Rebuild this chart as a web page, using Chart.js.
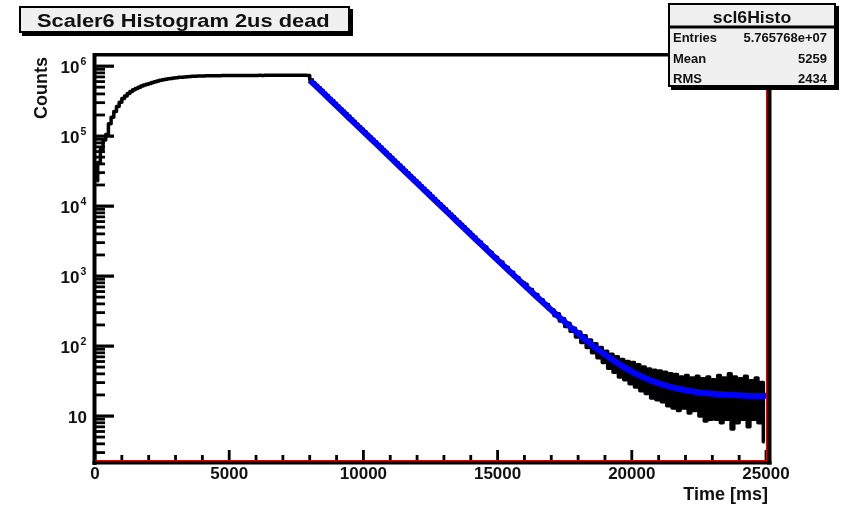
<!DOCTYPE html>
<html>
<head>
<meta charset="utf-8">
<title>Scaler6 Histogram 2us dead</title>
<script src="https://cdn.jsdelivr.net/npm/chart.js@4.4.1/dist/chart.umd.min.js"></script>
<style>
  html, body { margin: 0; padding: 0; background: #fff; }
  canvas { display: block; }
</style>
</head>
<body>
<canvas id="histo" width="844" height="505"></canvas>
<script>
// histogram: 250 bins of 100 ms, counts
const binWidth = 100;
const histCounts = [
  // 0 - 3900 ms (rise)
  23000, 42000, 65000, 88000, 105000, 150000, 185000, 225000, 265000, 305000,
  345000, 375000, 405000, 435000, 458000, 480000, 500000, 518000, 535000, 550000,
  565000, 582000, 598000, 612000, 625000, 637000, 648000, 658000, 667000, 675000,
  684000, 690000, 695000, 700000, 705000, 709000, 713000, 716000, 719000, 721000,
  // 4000 - 7900 ms (plateau)
  723000, 725000, 726000, 727000, 728000, 729000, 730000, 731000, 731000, 732000,
  732000, 733000, 732000, 734000, 733000, 735000, 734000, 735000, 736000, 735000,
  736000, 737000, 736000, 738000, 737000, 738000, 739000, 738000, 739000, 740000,
  739000, 740000, 741000, 740000, 741000, 742000, 741000, 742000, 742000, 736000,
  // 8000 - 15900 ms (decay)
  640000, 579000, 532000, 490000, 450000, 413000, 379000, 348000, 321000, 294000,
  270000, 248000, 228000, 210000, 193000, 177000, 163000, 149000, 137000, 126000,
  116000, 106000, 97700, 89900, 82600, 75900, 69700, 64000, 58900, 54100,
  49700, 45600, 41900, 38500, 35400, 32500, 29900, 27400, 25200, 23200,
  21300, 19500, 18000, 16500, 15200, 13900, 12800, 11700, 10800, 9930,
  9120, 8380, 7690, 7080, 6500, 5970, 5480, 5040, 4630, 4260,
  3880, 3620, 3260, 3060, 2750, 2590, 2310, 2190, 1950, 1850,
  1650, 1580, 1390, 1340, 1170, 1130, 990, 955, 835, 810,
  // 16000 - 24900 ms (noisy tail)
  760, 650, 640, 550, 545, 470, 460, 395, 392, 335,
  330, 270, 290, 228, 246, 190, 212, 162, 180, 135,
  158, 112, 140, 95, 122, 80, 108, 68, 95, 58,
  84, 48, 76, 42, 70, 36, 64, 33, 60, 29,
  58, 26, 54, 23, 50, 21, 47, 18, 45, 17,
  44, 16, 42, 14, 40, 13, 39, 12, 36, 13,
  38, 11, 35, 12, 37, 10, 34, 8.5, 36, 9,
  33, 9, 38, 8, 35, 9, 40, 6.5, 36, 8,
  34, 9, 37, 7, 32, 9, 35, 8, 30, 4.3
];

// fitted curve (blue), sampled every 500 ms
const fitTimes = [
  8000, 8500, 9000, 9500, 10000, 10500, 11000, 11500, 12000, 12500,
  13000, 13500, 14000, 14500, 15000, 15500, 16000, 16500, 17000, 17500,
  18000, 18500, 19000, 19500, 20000, 20500, 21000, 21500, 22000, 22500,
  23000, 23500, 24000, 24500, 25000
];
const fitCounts = [
  631000, 413000, 270000, 177000, 116000, 75900, 49700, 32500, 21300, 13900,
  9120, 5970, 3910, 2560, 1690, 1115, 737, 489, 327, 220,
  151, 105, 75.5, 56, 43.2, 34.8, 29.4, 25.8, 23.5, 21.9,
  20.9, 20.2, 19.8, 19.5, 19.4
];

const xMajorTicks = [0, 5000, 10000, 15000, 20000, 25000];
const xMinorStep = 1000;
const yDecades = [1, 2, 3, 4, 5, 6];
const statsTitle = "scl6Histo";
const statsNames = ["Entries", "Mean", "RMS"];
const statsValues = ["5.765768e+07", "5259", "2434"];

const FONT = '"Liberation Sans", Arial, Helvetica, sans-serif';
const INK = "#111";

function label(ctx, text, x, y, size, align, sx) {
  ctx.save();
  ctx.font = "bold " + size + "px " + FONT;
  ctx.fillStyle = INK;
  ctx.textAlign = align;
  ctx.textBaseline = "alphabetic";
  ctx.translate(x, y);
  ctx.scale(sx || 1, 1);
  ctx.fillText(text, 0, 0);
  ctx.restore();
}

// points at bin centres
const histPoints = histCounts.map((c, i) => ({ x: (i + 0.5) * binWidth, y: c }));
const fitPoints = fitTimes.map((t, i) => ({ x: t, y: fitCounts[i] }));

// ROOT-style frame, inward ticks, labels, title and stats boxes
const rootDecor = {
  id: "rootDecor",
  afterDatasetsDraw(chart) {
    const { ctx, chartArea: a, scales: { x, y } } = chart;
    ctx.save();
    ctx.fillStyle = "#000";

    // y ticks (log): majors at decades, minors at 2..9
    yDecades.forEach(d => {
      const py = y.getPixelForValue(Math.pow(10, d));
      ctx.fillRect(a.left, py - 1.5, 19, 3.2);
    });
    for (let d = 0; d <= 6; d++) {
      for (let m = 2; m <= 9; m++) {
        const v = m * Math.pow(10, d);
        if (v <= y.min || v >= y.max) continue;
        const py = y.getPixelForValue(v);
        ctx.fillRect(a.left, py - 1.4, 10, 2.8);
      }
    }

    // x ticks
    for (let t = x.min; t <= x.max; t += xMinorStep) {
      const px = x.getPixelForValue(t);
      const len = xMajorTicks.includes(t) ? 10 : 5;
      ctx.fillRect(px - 1.4, a.bottom - len, 2.8, len);
    }

    // frame
    const w = a.right - a.left;
    const h = a.bottom - a.top;
    ctx.fillRect(a.left - 2, a.top - 2, w + 7, 3.5);
    ctx.fillRect(a.left - 2.5, a.top - 2, 4, h + 7);
    ctx.fillRect(a.left - 2.5, a.bottom + 1, w + 8, 3.5);
    ctx.fillRect(a.right + 1, a.top - 2, 4.5, h + 6.5);
    ctx.strokeStyle = "#e00000";
    ctx.lineWidth = 1;
    ctx.beginPath();
    ctx.moveTo(a.left, a.bottom + 0.5);
    ctx.lineTo(a.right + 1, a.bottom + 0.5);
    ctx.moveTo(a.right + 0.5, a.top);
    ctx.lineTo(a.right + 0.5, a.bottom + 1);
    ctx.stroke();

    // y labels
    yDecades.forEach(d => {
      const py = y.getPixelForValue(Math.pow(10, d));
      if (d === 1) {
        label(ctx, "10", 87, py + 7, 17, "right");
      } else {
        label(ctx, "10", 79.5, py + 7, 17, "right");
        label(ctx, String(d), 80.5, py - 1, 10.5, "left");
      }
    });

    // x labels
    xMajorTicks.forEach(t => {
      label(ctx, String(t), x.getPixelForValue(t), 479, 17, "center");
    });

    // axis titles
    label(ctx, "Time [ms]", 768, 500, 18, "right");
    ctx.save();
    ctx.translate(47, 88);
    ctx.rotate(-Math.PI / 2);
    label(ctx, "Counts", 0, 0, 18, "center");
    ctx.restore();

    // title box
    ctx.fillStyle = "#000";
    ctx.fillRect(22, 9, 331, 27);
    ctx.fillStyle = "#f0f0f0";
    ctx.fillRect(19, 6, 331, 27);
    ctx.strokeStyle = "#000";
    ctx.lineWidth = 2;
    ctx.strokeRect(20, 7, 329, 25);
    label(ctx, "Scaler6 Histogram 2us dead", 37, 27, 19, "left", 1.15);

    // stats box
    ctx.fillStyle = "#000";
    ctx.fillRect(671, 6, 168, 84);
    ctx.fillStyle = "#f0f0f0";
    ctx.fillRect(668, 3, 168, 84);
    ctx.strokeRect(669, 4, 166, 82);
    ctx.fillStyle = "#000";
    ctx.fillRect(668, 25.5, 168, 3);
    label(ctx, statsTitle, 752, 23, 16, "center", 1.1);
    const rowY = [41.5, 63, 83];
    statsNames.forEach((n, i) => {
      label(ctx, n, 673, rowY[i], 13, "left");
      label(ctx, statsValues[i], 827, rowY[i], 13, "right");
    });

    ctx.restore();
  }
};

new Chart(document.getElementById("histo"), {
  type: "line",
  data: {
    datasets: [
      {
        label: "fit",
        data: fitPoints,
        borderColor: "#0000ff",
        borderWidth: 6,
        borderCapStyle: "butt",
        borderJoinStyle: "round",
        cubicInterpolationMode: "monotone",
        pointRadius: 0,
        fill: false,
        order: 0,
      },
      {
        label: "scl6Histo",
        data: histPoints,
        borderColor: "#000",
        borderWidth: 3.5,
        borderJoinStyle: "round",
        stepped: "middle",
        pointRadius: 0,
        fill: false,
        order: 1,
      },
    ],
  },
  options: {
    responsive: false,
    devicePixelRatio: 1,
    animation: false,
    layout: { padding: { left: 95, top: 55, right: 78, bottom: 45 } },
    plugins: {
      legend: { display: false },
      tooltip: { enabled: false },
    },
    scales: {
      x: { type: "linear", min: 0, max: 25000, display: false },
      y: { type: "logarithmic", min: 2.35, max: 1.44e6, display: false },
    },
  },
  plugins: [rootDecor],
});
</script>
</body>
</html>
